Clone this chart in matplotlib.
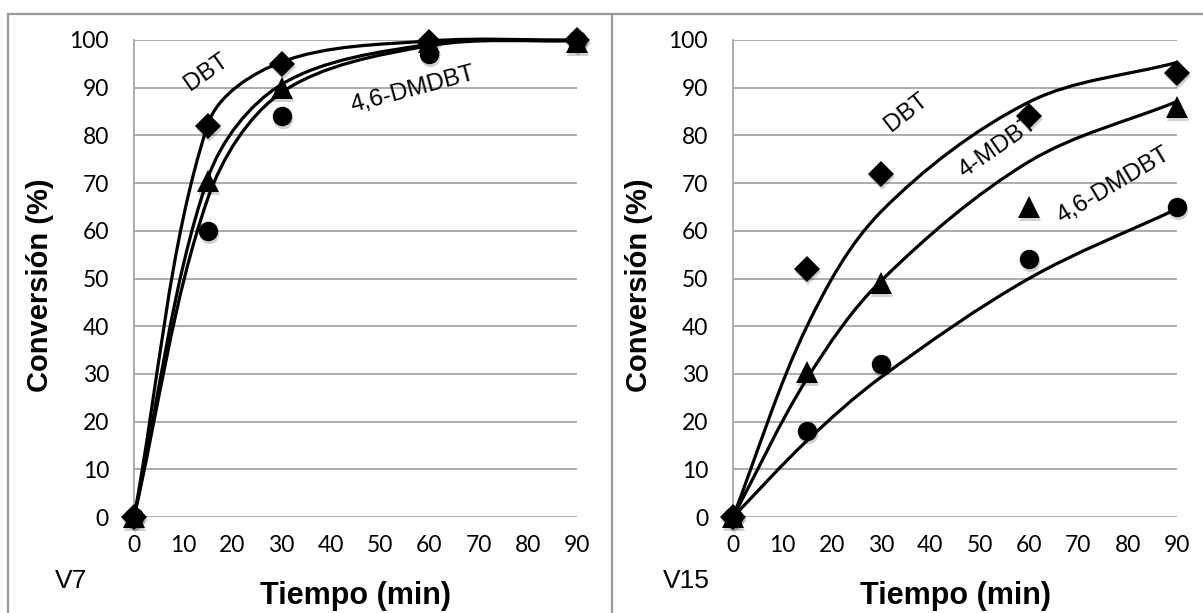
import math
import matplotlib
matplotlib.use("Agg")
import matplotlib.pyplot as plt
import matplotlib.transforms as mtransforms
from matplotlib.path import Path
from matplotlib.patches import PathPatch
from matplotlib.lines import Line2D

# ---- data -----------------------------------------------------------------
time_min = [0, 15, 30, 60, 90]
x_ticks = [0, 10, 20, 30, 40, 50, 60, 70, 80, 90]
y_ticks = [0, 10, 20, 30, 40, 50, 60, 70, 80, 90, 100]

# V7 catalyst: measured conversion (%)
v7_dbt = [0, 82, 95, 99.5, 100]
v7_mdbt = [0, 70.5, 90, 99.5, 99.5]
v7_dmdbt = [0, 60, 84, 97, 100]
# V7 catalyst: model conversion (%)
v7_dbt_fit = [0, 82.3, 95.4, 99.8, 100]
v7_mdbt_fit = [0, 71, 90.7, 99.1, 99.9]
v7_dmdbt_fit = [0, 66.8, 89, 98.8, 99.9]

# V15 catalyst: measured conversion (%)
v15_dbt = [0, 52, 72, 84, 93]
v15_mdbt = [0, 30.5, 49, 65, 86]
v15_dmdbt = [0, 18, 32, 54, 65]
# V15 catalyst: model conversion (%)
v15_dbt_fit = [0, 40, 64, 87, 95.3]
v15_mdbt_fit = [0, 29, 49.5, 74.5, 87.1]
v15_dmdbt_fit = [0, 16, 29.3, 50, 64.6]

plt.rcParams["font.family"] = ["Liberation Sans", "DejaVu Sans"]

W, H = 1203, 613
fig = plt.figure(figsize=(W / 100, H / 100), dpi=100)

GRID = "#a6a6a6"
BORDER = "#999999"


def smooth_path(ax, xs, ys):
    """Bezier path through the points; tangent lengths are split in
    proportion to the neighbouring segment lengths on screen."""
    to_disp = ax.transData
    to_data = ax.transData.inverted()
    pts = [tuple(p) for p in to_disp.transform(list(zip(xs, ys)))]
    n = len(pts)

    def dist(a, b):
        return math.hypot(b[0] - a[0], b[1] - a[1])

    out_ctrl, in_ctrl = [], []
    for i in range(n):
        prev = pts[i - 1] if i > 0 else pts[i]
        nxt = pts[i + 1] if i < n - 1 else pts[i]
        tx, ty = nxt[0] - prev[0], nxt[1] - prev[1]
        d0 = dist(prev, pts[i])
        d1 = dist(pts[i], nxt)
        tot = d0 + d1 if d0 + d1 > 0 else 1.0
        out_ctrl.append((pts[i][0] + tx * d1 / tot / 3,
                         pts[i][1] + ty * d1 / tot / 3))
        in_ctrl.append((pts[i][0] - tx * d0 / tot / 3,
                        pts[i][1] - ty * d0 / tot / 3))

    verts = [pts[0]]
    codes = [Path.MOVETO]
    for i in range(n - 1):
        verts += [out_ctrl[i], in_ctrl[i + 1], pts[i + 1]]
        codes += [Path.CURVE4] * 3
    return Path(to_data.transform(verts), codes)


def panel(rect, series, fits, labels, tag):
    ax = fig.add_axes(rect)
    ax.set_xlim(0, 90)
    ax.set_ylim(0, 100)
    ax.set_xticks(x_ticks)
    ax.set_yticks(y_ticks)
    for s in ("top", "right", "bottom"):
        ax.spines[s].set_visible(False)
    ax.spines["left"].set_color(GRID)
    ax.spines["left"].set_linewidth(1.3)
    ax.yaxis.grid(True, color=GRID, linewidth=1.3)
    ax.set_axisbelow(True)
    ax.tick_params(axis="both", length=0, labelsize=16.5)
    ax.tick_params(axis="y", pad=18)
    ax.tick_params(axis="x", pad=13)
    for lab in ax.get_xticklabels() + ax.get_yticklabels():
        lab.set_family(["Lato", "DejaVu Sans"])

    for fit in fits:
        ax.add_patch(PathPatch(smooth_path(ax, time_min, fit),
                               facecolor="none", edgecolor="black",
                               linewidth=2.3, capstyle="round",
                               joinstyle="round", zorder=3, clip_on=False))

    shadow = mtransforms.offset_copy(ax.transData, fig=fig, x=1.0, y=-3.0,
                                     units="dots")
    for vals, marker, ms in series:
        ax.plot(time_min, vals, linestyle="none", marker=marker, markersize=ms,
                color="#000000", alpha=0.18, markeredgewidth=0,
                transform=shadow, zorder=3.5, clip_on=False)
        ax.plot(time_min, vals, linestyle="none", marker=marker, markersize=ms,
                color="black", markeredgewidth=0, zorder=4, clip_on=False)

    for text, x, y, rot in labels:
        ax.text(x, y, text, rotation=rot, rotation_mode="anchor",
                ha="center", va="center", fontsize=17.5, zorder=5)

    ax.set_xlabel("Tiempo (min)", fontsize=22, fontweight="bold",
                  va="center")
    ax.set_ylabel("Conversión (%)", fontsize=21, fontweight="bold",
                  va="center")
    ax.xaxis.set_label_coords(0.5, -0.166)
    ax.yaxis.set_label_coords(-0.212, 0.485)
    ax.text(tag[1], -0.135, tag[0], transform=ax.transAxes, fontsize=19,
            ha="center", va="center")
    return ax


markers_v7 = [(v7_dbt, "D", 13), (v7_mdbt, "^", 15.5), (v7_dmdbt, "o", 14)]
markers_v15 = [(v15_dbt, "D", 13), (v15_mdbt, "^", 15.5), (v15_dmdbt, "o", 14)]

panel([134 / W, 1 - 517 / H, 443 / W, 477 / H], markers_v7,
      [v7_dbt_fit, v7_mdbt_fit, v7_dmdbt_fit],
      [("DBT", 14.8, 93.3, 35), ("4,6-DMDBT", 56.7, 89.5, 15)],
      ("V7", (71 - 134) / 443))

panel([733 / W, 1 - 517 / H, 444 / W, 477 / H], markers_v15,
      [v15_dbt_fit, v15_mdbt_fit, v15_dmdbt_fit],
      [("DBT", 35.1, 84.9, 38), ("4-MDBT", 53.8, 77.6, 35),
       ("4,6-DMDBT", 77.1, 69.6, 31)],
      ("V15", (686 - 733) / 444))

# panel frames
for xs, ys in [((8, 8), (14, H)), ((8, W), (14, 14)), ((611.5, 611.5), (14, H))]:
    fig.add_artist(Line2D([x / W for x in xs], [1 - y / H for y in ys],
                          transform=fig.transFigure, color=BORDER,
                          linewidth=1.6))

fig.savefig("out.png", dpi=100)
